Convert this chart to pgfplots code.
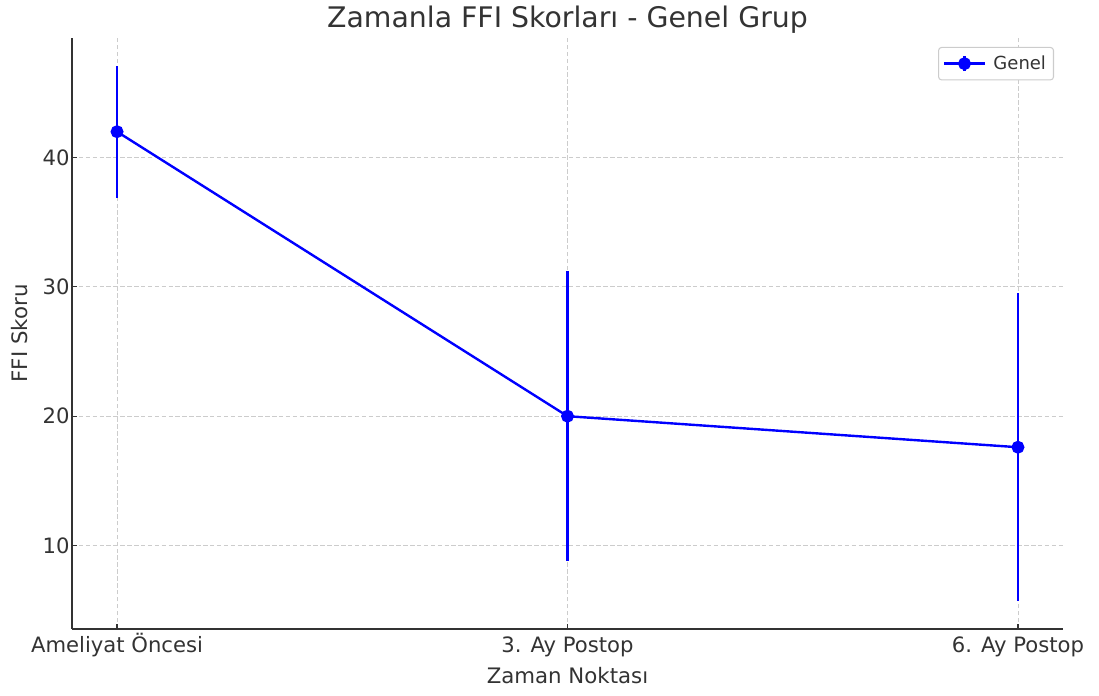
\documentclass[border=0pt]{standalone}
\usepackage{pgfplots}
\pgfplotsset{compat=1.18}
\usepackage{fontspec}
\setmainfont{DejaVu Sans}
\definecolor{txt}{HTML}{333333}
\definecolor{gridc}{HTML}{CCCCCC}
\begin{document}
\begin{tikzpicture}
\begin{axis}[
  scale only axis,
  width=660.7pt, height=394pt,
  xmin=-0.1, xmax=2.1,
  ymin=3.55, ymax=49.25,
  xtick={0,1,2},
  xticklabels={Ameliyat Öncesi, 3. Ay Postop, 6. Ay Postop},
  ytick={10,20,30,40},
  axis x line*=bottom, axis y line*=left,
  axis line style={-, draw=txt, line width=0.9pt},
  tick align=inside,
  major tick length=3.3pt,
  tick style={draw=txt, line width=0.8pt},
  grid=major,
  major grid style={dashed, dash pattern=on 3pt off 1.6pt, draw=gridc, line width=0.55pt},
  /pgf/number format/assume math mode=true,
  ticklabel style={font=\fontsize{14.1}{16}\selectfont, text=txt},
  xticklabel style={anchor=base, inner sep=0pt, yshift=-16pt},
  yticklabel style={anchor=east, inner sep=0pt, xshift=-1.4pt},
  every axis title/.style={at={(axis description cs:0.5,1)}, anchor=south, inner sep=0pt, yshift=2.7pt, font=\fontsize{18.9}{22}\selectfont, text=txt},
  title={Zamanla FFI Skorları - Genel Grup},
  xlabel={Zaman Noktası},
  xlabel style={font=\fontsize{14.2}{16}\selectfont, text=txt, at={([yshift=-36.5pt]axis description cs:0.5,0)}, anchor=base, inner sep=0pt},
  ylabel={FFI Skoru},
  ylabel style={font=\fontsize{14.2}{16}\selectfont, text=txt, at={([xshift=-29pt]axis description cs:0,0.5)}, anchor=south, inner sep=0pt},
  legend style={at={([xshift=-6pt,yshift=-6pt]axis description cs:1,1)}, anchor=north east,
    font=\fontsize{12}{14}\selectfont, text=txt, draw=gridc, line width=0.7pt, rounded corners=2pt,
    inner xsep=3pt, inner ysep=3.5pt},
  legend cell align=left,
  clip=false,
]
\addplot[blue, line width=1.6pt, mark=*, mark size=3.5pt,
  mark options={solid, fill=blue},
  legend image code/.code={
    \draw[blue, line width=1.6pt] (0pt,0pt) -- (27pt,0pt);
    \draw[blue, line width=1.6pt] (13.5pt,-5pt) -- (13.5pt,5pt);
    \fill[blue] (13.5pt,0pt) circle (3.5pt);
  },
  error bars/.cd, y dir=both, y explicit,
  error mark=none,
  error bar style={line width=1.6pt, blue},
  ] coordinates {
  (0,42.0) +- (0,5.1)
  (1,20.0) +- (0,11.2)
  (2,17.6) +- (0,11.9)
};
\addlegendentry{\hspace{3pt}Genel}
\end{axis}
\path ([shift={(-48pt,-44.7pt)}]current axis.south west) rectangle ([shift={(24pt,25.3pt)}]current axis.north east);
\end{tikzpicture}
\end{document}
